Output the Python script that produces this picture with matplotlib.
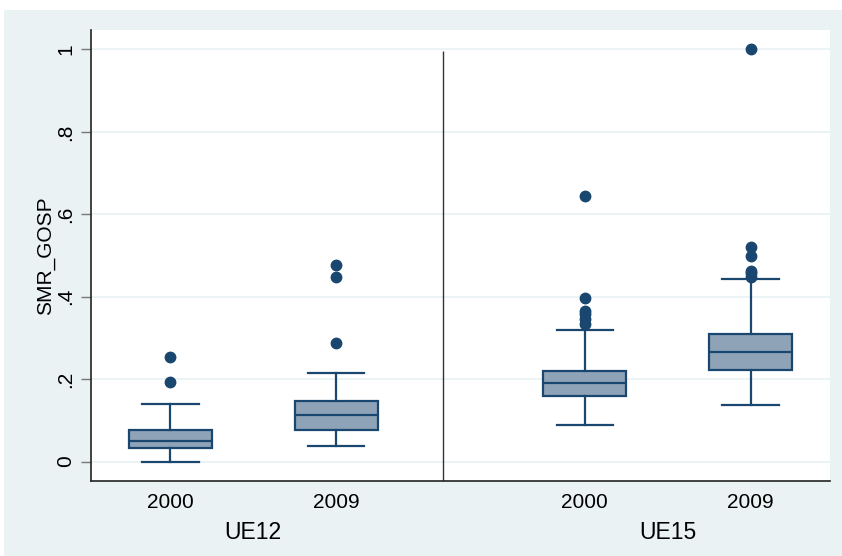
import matplotlib
matplotlib.use("Agg")
import matplotlib.pyplot as plt
from matplotlib.patches import Rectangle

plt.rcParams['font.family'] = ['Liberation Sans', 'DejaVu Sans']

# box statistics (SMR_GOSP)
years = ["2000", "2009", "2000", "2009"]
groups = ["UE12", "UE15"]
positions = [1.0, 2.0, 3.5, 4.5]
whislo = [0.000, 0.037, 0.088, 0.137]
q1 = [0.033, 0.077, 0.158, 0.222]
med = [0.049, 0.113, 0.190, 0.265]
q3 = [0.076, 0.148, 0.221, 0.310]
whishi = [0.140, 0.216, 0.319, 0.443]
fliers = [
    [0.192, 0.255],
    [0.287, 0.448, 0.476],
    [0.334, 0.345, 0.358, 0.366, 0.397, 0.644],
    [0.449, 0.457, 0.462, 0.499, 0.521, 1.000],
]
yticks = [0, 0.2, 0.4, 0.6, 0.8, 1.0]
yticklabels = ["0", ".2", ".4", ".6", ".8", "1"]

navy = "#1a476f"
fill = "#8fa3b8"
bg = "#eaf2f3"

fig = plt.figure(figsize=(8.42, 5.56), dpi=100)
fig.patch.set_facecolor("white")
fig.patches.append(Rectangle((4 / 842, 0), 1, 1 - 10 / 556, transform=fig.transFigure,
                             facecolor=bg, edgecolor="none", zorder=-10))
ax = fig.add_axes([90.5 / 842, 1 - 481 / 556, 739 / 842, 451 / 556])
ax.set_facecolor("white")

stats = []
for i in range(4):
    stats.append(dict(whislo=whislo[i], q1=q1[i], med=med[i], q3=q3[i],
                      whishi=whishi[i], fliers=fliers[i]))

ax.bxp(stats, positions=positions, widths=0.5, capwidths=0.34, patch_artist=True,
       boxprops=dict(facecolor=fill, edgecolor=navy, linewidth=1.6),
       medianprops=dict(color=navy, linewidth=1.6),
       whiskerprops=dict(color=navy, linewidth=1.6),
       capprops=dict(color=navy, linewidth=1.6),
       flierprops=dict(marker="o", markerfacecolor=navy, markeredgecolor=navy,
                       markersize=7.5))

ax.set_xlim(0.518, 4.976)
ax.set_ylim(-0.047, 1.047)
ax.set_yticks(yticks)
ax.set_yticklabels(yticklabels, rotation=90, va="center", fontsize=15)
ax.yaxis.grid(True, color=bg, linewidth=1.3)
ax.set_axisbelow(True)
ax.tick_params(axis="y", length=7, width=1, color="#777777", pad=4)

ax.set_xticks(positions)
ax.set_xticklabels(years, fontsize=15)
ax.tick_params(axis="x", length=0, pad=9)

ax.vlines(2.645, -0.047, 0.995, color="#333333", linewidth=1)

for j, g in enumerate(groups):
    cx = (positions[2 * j] + positions[2 * j + 1]) / 2
    ax.text(cx, -0.172, g, ha="center", va="center", fontsize=16.5)

ax.set_ylabel("SMR_GOSP", fontsize=15, labelpad=0.5)

for s in ["top", "right"]:
    ax.spines[s].set_visible(False)
for s in ["left", "bottom"]:
    ax.spines[s].set_color("#222222")
    ax.spines[s].set_linewidth(1.2)

fig.savefig("out.png", dpi=100)
